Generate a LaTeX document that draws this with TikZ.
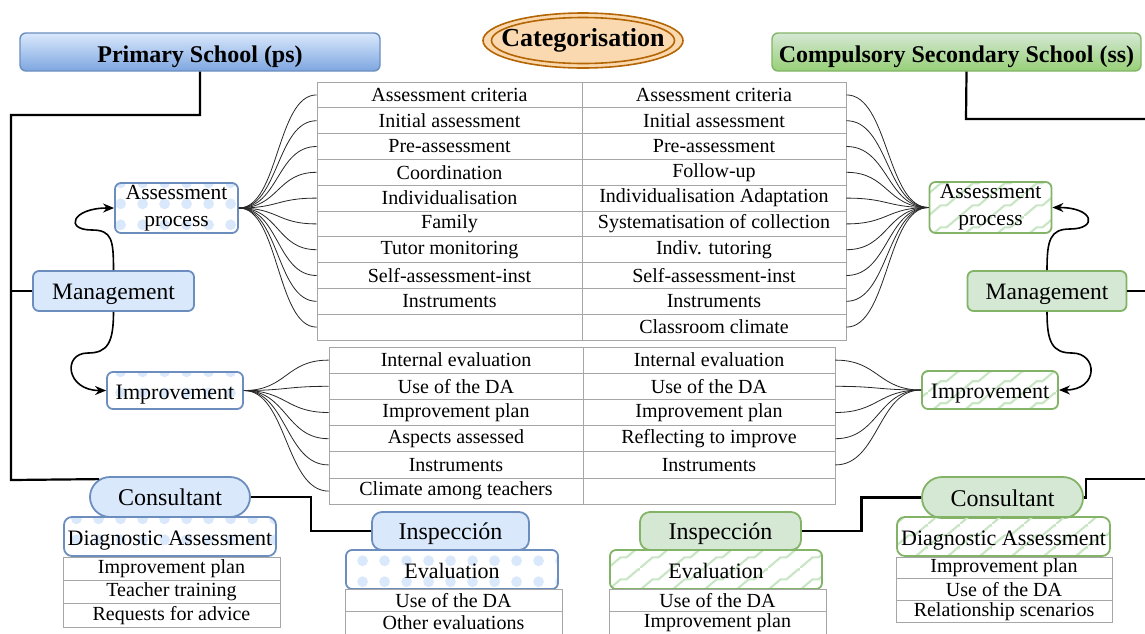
\documentclass[tikz,border=0pt]{standalone}
\usepackage{fontspec}
\setmainfont{Liberation Serif}
\usetikzlibrary{arrows.meta,patterns.meta,shapes.geometric,calc}

\definecolor{psfill}{HTML}{DAE8FC}
\definecolor{psline}{HTML}{6C8EBF}
\definecolor{psdark}{HTML}{7EA6E0}
\definecolor{ssfill}{HTML}{D5E8D4}
\definecolor{ssline}{HTML}{82B366}
\definecolor{ssdark}{HTML}{97D077}
\definecolor{catfill}{HTML}{FAD9B0}
\definecolor{catline}{HTML}{B46504}
\definecolor{zigcol}{HTML}{C8E6C4}

% fill patterns of the boxes
\tikzdeclarepattern{
  name=psdots,
  type=colored,
  bottom left={(0pt,0pt)},
  top right={(22pt,21pt)},
  tile size={(22pt,21pt)},
  code={\fill[psfill] (11pt,10.5pt) circle (5.6pt);}
}
\tikzdeclarepattern{
  name=sszig,
  type=colored,
  bottom left={(0pt,0pt)},
  top right={(32pt,22pt)},
  tile size={(32pt,22pt)},
  code={\draw[zigcol, line width=2.2pt] (0pt,0pt) -- (13pt,11pt) -- (19pt,11pt) -- (32pt,22pt);}
}

\begin{document}
\begin{tikzpicture}[x=1pt, y=-1pt,
    cell/.style = {draw=gray!70, line width=0.8pt, inner sep=0pt, font=\fontsize{20}{24}\selectfont},
    title/.style = {draw, line width=1.4pt, rounded corners=6pt, inner sep=0pt, minimum height=38pt, text height=20pt, text depth=0pt, font=\fontsize{24}{28}\bfseries},
    box/.style = {draw, line width=1.8pt, rounded corners=6pt, inner sep=0pt, text height=17pt, text depth=0pt, font=\fontsize{22}{26}\selectfont},
    psbox/.style = {box, draw=psline, fill=psfill},
    ssbox/.style = {box, draw=ssline, fill=ssfill},
    pspat/.style = {box, draw=psline, pattern=psdots},
    sspat/.style = {box, draw=ssline, pattern=sszig},
    twoline/.style = {text height={}, text depth={}, align=center, font=\fontsize{21.5}{27}\selectfont},
    tree/.style = {line width=2.2pt},
    fan/.style = {line width=0.8pt, black!85},
    arr/.style = {line width=1.6pt, -{Stealth[length=11pt,width=9pt]}}]

    \useasboundingbox (0,0) rectangle (1145,633);

    % Header
    \node[ellipse, draw=catline, line width=1.6pt, fill=catfill, minimum width=200pt, minimum height=55pt] (catout) at (583,40.5) {};
    \node[ellipse, draw=catline, line width=1.6pt, minimum width=183pt, minimum height=46pt] (catin) at (583,40.5) {};
    \node[font=\fontsize{26}{30}\bfseries] (cat) at (583,40) {Categorisation};
    \node[title, draw=psline, top color=psfill, bottom color=psdark, minimum width=360pt] (ps) at (200,52) {Primary School (ps)};
    \node[title, draw=ssline, top color=ssfill, bottom color=ssdark, minimum width=369pt] (ss) at (956.5,52) {Compulsory Secondary School (ss)};

    % Primary school nodes
    \node[psbox, minimum width=161pt, minimum height=40pt, font=\fontsize{23.5}{26}\selectfont] (psmg) at (113.5,291) {Management};
    \node[pspat, twoline, minimum width=123pt, minimum height=50pt] (psap) at (176.5,208) {Assessment\\process};
    \node[pspat, minimum width=136pt, minimum height=37pt] (psimp) at (175,390.5) {Improvement};
    \node[psbox, rounded corners=20pt, minimum width=160pt, minimum height=40pt, font=\fontsize{24}{28}\selectfont] (pscon) at (170,497) {Consultant};
    \node[pspat, rounded corners=8pt, minimum width=212pt, minimum height=39pt] (psda) at (170,536.5) {Diagnostic Assessment};
    \node[cell, minimum width=217pt, minimum height=23.3pt] (psct1) at (171.5,568.7) {Improvement plan};
    \node[cell, minimum width=217pt, minimum height=23.3pt] (psct2) at (171.5,592) {Teacher training};
    \node[cell, minimum width=217pt, minimum height=23.3pt] (psct3) at (171.5,615.3) {Requests for advice};
    \node[psbox, rounded corners=10pt, minimum width=157pt, minimum height=38pt, font=\fontsize{24}{28}\selectfont] (psins) at (450.5,531) {Inspección};
    \node[pspat, minimum width=212pt, minimum height=39pt] (psev) at (452,569.5) {Evaluation};
    \node[cell, minimum width=217pt, minimum height=22.5pt] (psev1) at (453.5,600.25) {Use of the DA};
    \node[cell, minimum width=217pt, minimum height=22.5pt] (psev2) at (453.5,622.75) {Other evaluations};

    % Secondary school nodes
    \node[ssbox, minimum width=159pt, minimum height=40pt, font=\fontsize{23.5}{26}\selectfont] (ssmg) at (1047,291) {Management};
    \node[sspat, twoline, minimum width=122pt, minimum height=51pt] (ssap) at (990.5,207.5) {Assessment\\process};
    \node[sspat, minimum width=136pt, minimum height=38pt] (ssimp) at (990,390) {Improvement};
    \node[ssbox, rounded corners=20pt, minimum width=161pt, minimum height=41pt, font=\fontsize{24}{28}\selectfont] (sscon) at (1002.5,497.5) {Consultant};
    \node[sspat, rounded corners=8pt, minimum width=213pt, minimum height=39pt] (ssda) at (1003.5,536.5) {Diagnostic Assessment};
    \node[cell, minimum width=216pt, minimum height=21.7pt] (ssct1) at (1004,567.8) {Improvement plan};
    \node[cell, minimum width=216pt, minimum height=21.7pt] (ssct2) at (1004,589.5) {Use of the DA};
    \node[cell, minimum width=216pt, minimum height=21.7pt] (ssct3) at (1004,611.2) {Relationship scenarios};
    \node[ssbox, rounded corners=10pt, minimum width=161pt, minimum height=38pt, font=\fontsize{24}{28}\selectfont] (ssins) at (720.5,531) {Inspección};
    \node[sspat, minimum width=212pt, minimum height=39pt] (ssev) at (716,569.5) {Evaluation};
    \node[cell, minimum width=217pt, minimum height=22.5pt] (ssev1) at (717.5,600.25) {Use of the DA};
    \node[cell, minimum width=217pt, minimum height=22.5pt] (ssev2) at (717.5,622.75) {Improvement plan};

    % Assessment table
    \node[cell, minimum width=265pt, minimum height=25.8pt] (a1) at (449.5,94.9) {Assessment criteria};
    \node[cell, minimum width=265pt, minimum height=25.8pt] (a2) at (449.5,120.7) {Initial assessment};
    \node[cell, minimum width=265pt, minimum height=25.8pt] (a3) at (449.5,146.5) {Pre-assessment};
    \node[cell, minimum width=265pt, minimum height=25.8pt] (a4) at (449.5,172.3) {Coordination};
    \node[cell, minimum width=265pt, minimum height=25.8pt] (a5) at (449.5,198.1) {Individualisation};
    \node[cell, minimum width=265pt, minimum height=25.8pt] (a6) at (449.5,223.9) {Family};
    \node[cell, minimum width=265pt, minimum height=25.8pt] (a7) at (449.5,249.7) {Tutor monitoring};
    \node[cell, minimum width=265pt, minimum height=25.8pt] (a8) at (449.5,275.5) {Self-assessment-inst};
    \node[cell, minimum width=265pt, minimum height=25.8pt] (a9) at (449.5,301.3) {Instruments};
    \node[cell, minimum width=265pt, minimum height=25.8pt] (a10) at (449.5,327.1) {};
    \node[cell, minimum width=264pt, minimum height=25.8pt] (b1) at (714,94.9) {Assessment criteria};
    \node[cell, minimum width=264pt, minimum height=25.8pt] (b2) at (714,120.7) {Initial assessment};
    \node[cell, minimum width=264pt, minimum height=25.8pt] (b3) at (714,146.5) {Pre-assessment};
    \node[cell, minimum width=264pt, minimum height=25.8pt] (b4) at (714,172.3) {Follow-up};
    \node[cell, minimum width=264pt, minimum height=25.8pt] (b5) at (714,198.1) {Individualisation Adaptation};
    \node[cell, minimum width=264pt, minimum height=25.8pt] (b6) at (714,223.9) {Systematisation of collection};
    \node[cell, minimum width=264pt, minimum height=25.8pt] (b7) at (714,249.7) {Indiv. tutoring};
    \node[cell, minimum width=264pt, minimum height=25.8pt] (b8) at (714,275.5) {Self-assessment-inst};
    \node[cell, minimum width=264pt, minimum height=25.8pt] (b9) at (714,301.3) {Instruments};
    \node[cell, minimum width=264pt, minimum height=25.8pt] (b10) at (714,327.1) {Classroom climate};

    % Improvement table
    \node[cell, minimum width=254pt, minimum height=26.2pt] (c1) at (456,360.1) {Internal evaluation};
    \node[cell, minimum width=254pt, minimum height=26.2pt] (c2) at (456,386.3) {Use of the DA};
    \node[cell, minimum width=254pt, minimum height=26.2pt] (c3) at (456,412.5) {Improvement plan};
    \node[cell, minimum width=254pt, minimum height=26.2pt] (c4) at (456,438.7) {Aspects assessed};
    \node[cell, minimum width=254pt, minimum height=26.2pt] (c5) at (456,464.9) {Instruments};
    \node[cell, minimum width=254pt, minimum height=26.2pt] (c6) at (456,491.1) {Climate among teachers};
    \node[cell, minimum width=252pt, minimum height=26.2pt] (d1) at (709,360.1) {Internal evaluation};
    \node[cell, minimum width=252pt, minimum height=26.2pt] (d2) at (709,386.3) {Use of the DA};
    \node[cell, minimum width=252pt, minimum height=26.2pt] (d3) at (709,412.5) {Improvement plan};
    \node[cell, minimum width=252pt, minimum height=26.2pt] (d4) at (709,438.7) {Reflecting to improve};
    \node[cell, minimum width=252pt, minimum height=26.2pt] (d5) at (709,464.9) {Instruments};
    \node[cell, minimum width=252pt, minimum height=26.2pt] (d6) at (709,491.1) {};

    % Tree lines
    \draw[tree] (ps.south) -- (200,115) -- (11,115) -- (11,480) -- ([xshift=10pt,yshift=-3pt]pscon.north west);
    \draw[tree] (psmg.west) -- (11,291);
    \draw[tree] (pscon.east) -| ($(pscon.east)!0.5!(psins.west)$) |- (psins.west);
    \draw[tree] ([xshift=10pt]ss.south) -- (966,119) -- (1145,119);
    \draw[tree] (ssmg.east) -- (1145,291);
    \draw[tree] (sscon.east) -| (1086,479) -- (1145,479);
    \draw[tree] (ssins.east) -| ($(ssins.east)!0.5!(sscon.west)$) |- (sscon.west);

    % Management arrows
    \draw[arr] (psmg.north) .. controls +(0,-30) and +(20,0) .. (92,230) .. controls +(-28,0) and +(-42,0) .. (psap.west);
    \draw[arr] (psmg.south) .. controls +(0,30) and +(20,0) .. (88,353) .. controls +(-26,0) and +(-40,0) .. (psimp.west);
    \draw[arr] (ssmg.north) .. controls +(0,-30) and +(-20,0) .. (1070,229) .. controls +(28,0) and +(42,0) .. (ssap.east);
    \draw[arr] (ssmg.south) .. controls +(0,30) and +(-20,0) .. (1072,353) .. controls +(26,0) and +(40,0) .. (ssimp.east);

    % Edges
    \draw[fan] (psap.east) .. controls +(40,0) and +(-40,0) .. (a1.west);
    \draw[fan] (psap.east) .. controls +(40,0) and +(-40,0) .. (a2.west);
    \draw[fan] (psap.east) .. controls +(40,0) and +(-40,0) .. (a3.west);
    \draw[fan] (psap.east) .. controls +(40,0) and +(-40,0) .. (a4.west);
    \draw[fan] (psap.east) .. controls +(40,0) and +(-40,0) .. (a5.west);
    \draw[fan] (psap.east) .. controls +(40,0) and +(-40,0) .. (a6.west);
    \draw[fan] (psap.east) .. controls +(40,0) and +(-40,0) .. (a7.west);
    \draw[fan] (psap.east) .. controls +(40,0) and +(-40,0) .. (a8.west);
    \draw[fan] (psap.east) .. controls +(40,0) and +(-40,0) .. (a9.west);
    \draw[fan] (psap.east) .. controls +(40,0) and +(-40,0) .. (a10.west);
    \draw[fan] (b1.east) .. controls +(42,0) and +(-42,0) .. (ssap.west);
    \draw[fan] (b2.east) .. controls +(42,0) and +(-42,0) .. (ssap.west);
    \draw[fan] (b3.east) .. controls +(42,0) and +(-42,0) .. (ssap.west);
    \draw[fan] (b4.east) .. controls +(42,0) and +(-42,0) .. (ssap.west);
    \draw[fan] (b5.east) .. controls +(42,0) and +(-42,0) .. (ssap.west);
    \draw[fan] (b6.east) .. controls +(42,0) and +(-42,0) .. (ssap.west);
    \draw[fan] (b7.east) .. controls +(42,0) and +(-42,0) .. (ssap.west);
    \draw[fan] (b8.east) .. controls +(42,0) and +(-42,0) .. (ssap.west);
    \draw[fan] (b9.east) .. controls +(42,0) and +(-42,0) .. (ssap.west);
    \draw[fan] (b10.east) .. controls +(42,0) and +(-42,0) .. (ssap.west);
    \draw[fan] (psimp.east) .. controls +(43,0) and +(-43,0) .. (c1.west);
    \draw[fan] (psimp.east) .. controls +(43,0) and +(-43,0) .. (c2.west);
    \draw[fan] (psimp.east) .. controls +(43,0) and +(-43,0) .. (c3.west);
    \draw[fan] (psimp.east) .. controls +(43,0) and +(-43,0) .. (c4.west);
    \draw[fan] (psimp.east) .. controls +(43,0) and +(-43,0) .. (c5.west);
    \draw[fan] (psimp.east) .. controls +(43,0) and +(-43,0) .. (c6.west);
    \draw[fan] (d1.east) .. controls +(43,0) and +(-43,0) .. (ssimp.west);
    \draw[fan] (d2.east) .. controls +(43,0) and +(-43,0) .. (ssimp.west);
    \draw[fan] (d3.east) .. controls +(43,0) and +(-43,0) .. (ssimp.west);
    \draw[fan] (d4.east) .. controls +(43,0) and +(-43,0) .. (ssimp.west);
    \draw[fan] (d5.east) .. controls +(43,0) and +(-43,0) .. (ssimp.west);
\end{tikzpicture}
\end{document}
